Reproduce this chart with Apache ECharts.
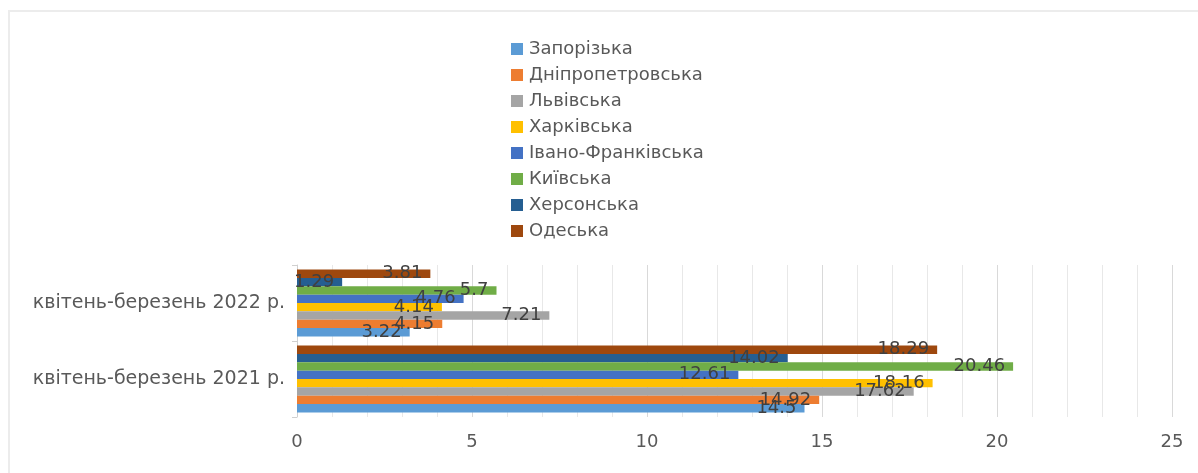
<!DOCTYPE html>
<html>
<head>
<meta charset="utf-8">
<script src="https://cdn.jsdelivr.net/npm/echarts@6/dist/echarts.min.js"></script>
<style>
  html, body { margin: 0; padding: 0; background: #fff; overflow: hidden; width: 1198px; height: 473px; }
  #frame { position: absolute; left: 8px; top: 10px; right: -20px; bottom: -20px;
           border-left: 2px solid #ececec; border-top: 2px solid #ececec; }
  #chart { position: absolute; left: 0; top: 0; width: 1198px; height: 473px; }
</style>
</head>
<body>
<div id="frame"></div>
<div id="chart"></div>
<script>
const categories = ['квітень-березень 2021 р.', 'квітень-березень 2022 р.']
const regions = ['Запорізька', 'Дніпропетровська', 'Львівська', 'Харківська',
  'Івано-Франківська', 'Київська', 'Херсонська', 'Одеська']
// values per region: [2021, 2022]
const values = [
  [14.5, 3.22],
  [14.92, 4.15],
  [17.62, 7.21],
  [18.16, 4.14],
  [12.61, 4.76],
  [20.46, 5.7],
  [14.02, 1.29],
  [18.29, 3.81]
]
const xTicks = [0, 5, 10, 15, 20, 25]

const colors = ['#5B9BD5', '#ED7D31', '#A5A5A5', '#FFC000', '#4472C4', '#70AD47', '#255E91', '#9E480E']
const font = '"DejaVu Sans", "Noto Sans", sans-serif'

const chart = echarts.init(document.getElementById('chart'))

// echarts puts the first series at the top of a horizontal group, excel at the bottom,
// so feed the series in reverse and keep the legend in the original order
const order = regions.map((_, i) => i).reverse()

chart.setOption({
  animation: false,
  textStyle: { fontFamily: font },
  legend: {
    orient: 'vertical',
    left: 506,
    top: 35,
    itemWidth: 12,
    itemHeight: 12,
    itemGap: 8,
    icon: 'rect',
    textStyle: { color: '#595959', fontSize: 18, fontFamily: font, padding: [0, 0, 0, 1] },
    data: regions
  },
  grid: { left: 297, right: 26, top: 265, bottom: 56, containLabel: false },
  xAxis: {
    type: 'value',
    min: xTicks[0],
    max: xTicks[xTicks.length - 1],
    interval: 5,
    axisLine: { show: false },
    axisTick: { show: false },
    axisLabel: { color: '#595959', fontSize: 18, margin: 16 },
    splitLine: { lineStyle: { color: '#d9d9d9' } },
    minorTick: { show: false, splitNumber: 5 },
    minorSplitLine: { show: true, lineStyle: { color: '#e8e8e8' } }
  },
  yAxis: {
    type: 'category',
    data: categories,
    axisLine: { show: true, lineStyle: { color: '#d0d0d0' } },
    axisTick: { show: true, length: 5, lineStyle: { color: '#d0d0d0' } },
    axisLabel: { color: '#595959', fontSize: 19, margin: 12 }
  },
  series: order.map(i => ({
    name: regions[i],
    type: 'bar',
    barGap: 0,
    barCategoryGap: '12%',
    itemStyle: { color: colors[i] },
    data: values[i],
    label: {
      show: true,
      position: 'insideRight',
      distance: 8,
      color: '#404040',
      fontSize: 18,
      fontFamily: font
    }
  }))
})
</script>
</body>
</html>
